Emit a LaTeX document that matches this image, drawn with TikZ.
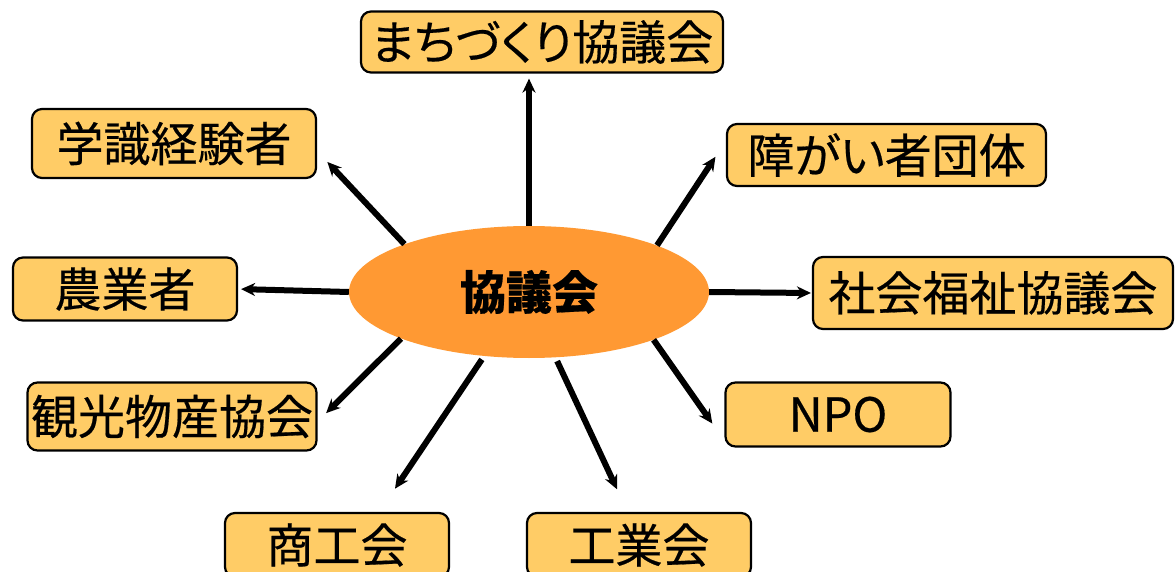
\documentclass[tikz,border=0pt]{standalone}
\usepackage{fontspec}
\setmainfont{Noto Sans CJK JP}[FakeBold=0.4]
\newfontfamily\propfont{Noto Sans CJK JP}[RawFeature=+palt, FakeBold=0.4]
\usetikzlibrary{shapes.geometric,arrows.meta}
\definecolor{boxfill}{HTML}{FFCC66}
\definecolor{hubfill}{HTML}{FF9933}
\tikzset{
  rect/.style={draw=black, line width=2.2pt, fill=boxfill, rounded corners=10pt,
    inner sep=0pt, font=\fontsize{47}{50}\selectfont},
  hub/.style={ellipse, fill=hubfill, inner sep=0pt, minimum width=360pt,
    minimum height=132pt, font=\fontsize{46}{50}\selectfont\bfseries},
  link/.style={draw=black, line width=6pt, -{Stealth[length=14pt,width=13pt]}}
}
\begin{document}
\begin{tikzpicture}[x=1pt,y=-1pt]
  \useasboundingbox (0,0) rectangle (1175,572);
  \node[hub] at (529, 292) (council) {協議会};

  \node[rect, minimum width=362pt, minimum height=61pt] at (542, 42) (machi) {\propfont まちづくり協議会};
  \node[rect, minimum width=284pt, minimum height=69pt] at (174, 143.5) (scholar) {学識経験者};
  \node[rect, minimum width=319pt, minimum height=62pt] at (886.5, 155) (disabled) {\propfont 障がい者団体};
  \node[rect, minimum width=224pt, minimum height=63pt] at (125, 289) (farmer) {農業者};
  \node[rect, minimum width=360pt, minimum height=72pt] at (993, 293) (welfare) {社会福祉協議会};
  \node[rect, minimum width=289pt, minimum height=68pt] at (172, 416.5) (tourism) {観光物産協会};
  \node[rect, minimum width=225pt, minimum height=64pt] at (838, 414.5) (npo) {NPO};
  \node[rect, minimum width=224pt, minimum height=64pt] at (337, 545) (commerce) {商工会};
  \node[rect, minimum width=224pt, minimum height=64pt] at (639, 545) (industry) {工業会};

  \path[link, shorten >=5pt] (council.north) -- (council.north |- machi.south);
  \path[link, shorten >=15pt] (council.159) -- (scholar.-3);
  \path[link, shorten >=19pt] (council.20.6) -- (disabled.175);
  \path[link, shorten >=3pt] (council.west) -- (farmer.east);
  \path[link, shorten >=1pt] (council.east) -- (welfare.west);
  \path[link, shorten >=12pt] (council.200.7) -- (tourism.-2.4);
  \path[link, shorten <=4pt, shorten >=28pt] (council.235.7) -- (commerce.38.6);
  \path[link, shorten <=4pt, shorten >=25pt] (council.292.8) -- (industry.109);
  \path[link, shorten >=21pt] (council.339.4) -- (npo.193);

\end{tikzpicture}
\end{document}
